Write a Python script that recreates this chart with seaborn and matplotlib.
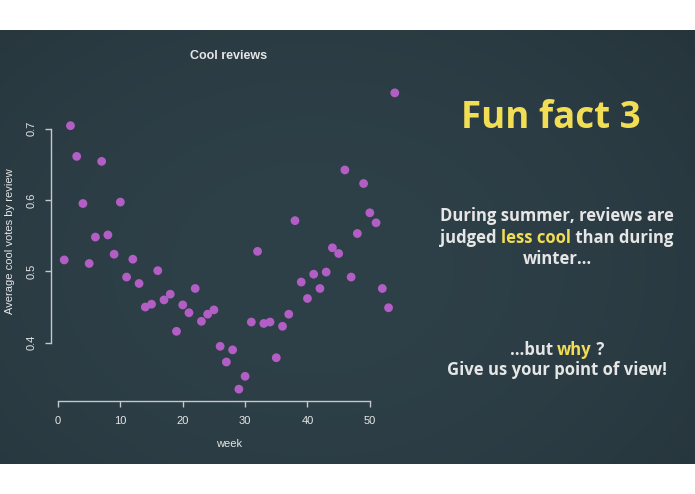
import numpy as np
import pandas as pd
import seaborn as sns
import matplotlib.pyplot as plt

# average cool votes per review, by week of the year
weeks = list(range(1, 55))
cool_votes = [0.516, 0.704, 0.661, 0.595, 0.511, 0.548, 0.654, 0.551, 0.524, 0.597,
              0.492, 0.517, 0.483, 0.450, 0.454, 0.501, 0.460, 0.468, 0.416, 0.453,
              0.442, 0.476, 0.430, 0.440, 0.446, 0.395, 0.373, 0.390, 0.335, 0.353,
              0.429, 0.528, 0.427, 0.429, 0.379, 0.423, 0.440, 0.571, 0.485, 0.462,
              0.496, 0.476, 0.499, 0.533, 0.525, 0.642, 0.492, 0.553, 0.623, 0.582,
              0.568, 0.476, 0.449, 0.750]
x_ticks = [0, 10, 20, 30, 40, 50]
y_ticks = [0.4, 0.5, 0.6, 0.7]

df = pd.DataFrame({'week': weeks, 'cool': cool_votes})

sns.set_style("white")
plt.rcParams['font.family'] = ['Liberation Sans', 'DejaVu Sans']

fg = '#e6e6e6'
axis_col = '#c4c8ca'
dot_col = '#b25ec4'
yellow = '#f2de55'

fig = plt.figure(figsize=(6.95, 4.94), dpi=100)
fig.patch.set_facecolor('white')

# chalkboard band with soft vignette
bg = fig.add_axes([0, 30 / 494, 1, 434 / 494])
gx, gy = np.meshgrid(np.linspace(0, 1, 300), np.linspace(0, 1, 200))
r = np.sqrt(((gx - 0.45) / 0.75) ** 2 + ((gy - 0.55) / 0.9) ** 2)
shade = np.clip(1 - 0.45 * r ** 2, 0, 1)
c_in = np.array([0x2e, 0x40, 0x48]) / 255
c_out = np.array([0x1b, 0x25, 0x2a]) / 255
img = c_out + (c_in - c_out) * shade[..., None]
bg.imshow(img, aspect='auto', extent=[0, 1, 0, 1], interpolation='bilinear')
bg.set_axis_off()

ax = fig.add_axes([51 / 695, 1 - 401 / 494, 357 / 695, 320 / 494])
ax.patch.set_alpha(0)
sns.scatterplot(data=df, x='week', y='cool', color=dot_col, s=40,
                edgecolor='none', ax=ax)

# R style ranges: 4% padding around the data
xr = max(weeks) - min(weeks)
yr = max(cool_votes) - min(cool_votes)
ax.set_xlim(min(weeks) - 0.04 * xr, max(weeks) + 0.04 * xr)
ax.set_ylim(min(cool_votes) - 0.04 * yr, max(cool_votes) + 0.04 * yr)

for side in ['top', 'right']:
    ax.spines[side].set_visible(False)
ax.spines['left'].set_bounds(y_ticks[0], y_ticks[-1])
ax.spines['bottom'].set_bounds(x_ticks[0], x_ticks[-1])
for side in ['left', 'bottom']:
    ax.spines[side].set_color(axis_col)
    ax.spines[side].set_linewidth(1.0)

ax.set_xticks(x_ticks)
ax.set_yticks(y_ticks)
ax.set_xticklabels([str(t) for t in x_ticks])
ax.set_yticklabels([str(t) for t in y_ticks], rotation=90, va='center')
ax.tick_params(axis='both', colors=axis_col, labelcolor=fg, labelsize=8,
               length=4, width=1.0, direction='out', bottom=True, left=True)
ax.tick_params(axis='x', pad=7)
ax.tick_params(axis='y', pad=6)

ax.set_xlabel('week', color=fg, fontsize=8, labelpad=9)
ax.set_ylabel('Average cool votes by review', color=fg, fontsize=8, labelpad=9)
fig.text(229 / 695, 1 - 56 / 494, 'Cool reviews', color=fg, fontsize=9,
         fontweight='bold', ha='center', va='center')

# right hand side text
side_font = ['Open Sans', 'DejaVu Sans']
fs = 12
fig.text(551 / 695, 1 - 118 / 494, 'Fun fact 3', color=yellow, fontsize=26.5,
         fontweight='bold', ha='center', va='center', family=side_font)

lines = [
    (216, [('During summer, reviews are', fg)]),
    (238, [('judged ', fg), ('less cool', yellow), (' than during', fg)]),
    (259, [('winter…', fg)]),
    (350, [('…but ', fg), ('why', yellow), (' ?', fg)]),
    (370, [('Give us your point of view!', fg)]),
]

fig.canvas.draw()
renderer = fig.canvas.get_renderer()


def text_width(s):
    # width of a string, padded with 'x' on both ends so spaces count
    t = fig.text(0, 0, 'x' + s + 'x', fontsize=fs, fontweight='bold', family=side_font)
    x = fig.text(0, 0, 'xx', fontsize=fs, fontweight='bold', family=side_font)
    w = t.get_window_extent(renderer).width - x.get_window_extent(renderer).width
    t.remove()
    x.remove()
    return w


cx = 557
for ypix, parts in lines:
    total = text_width(''.join(s for s, _ in parts))
    x0 = cx - total / 2
    acc = ''
    for s, col in parts:
        off = text_width(acc) if acc else 0
        fig.text((x0 + off) / 695, 1 - ypix / 494, s, color=col, fontsize=fs,
                 fontweight='bold', ha='left', va='center', family=side_font)
        acc += s

fig.savefig('out.png', dpi=100)
